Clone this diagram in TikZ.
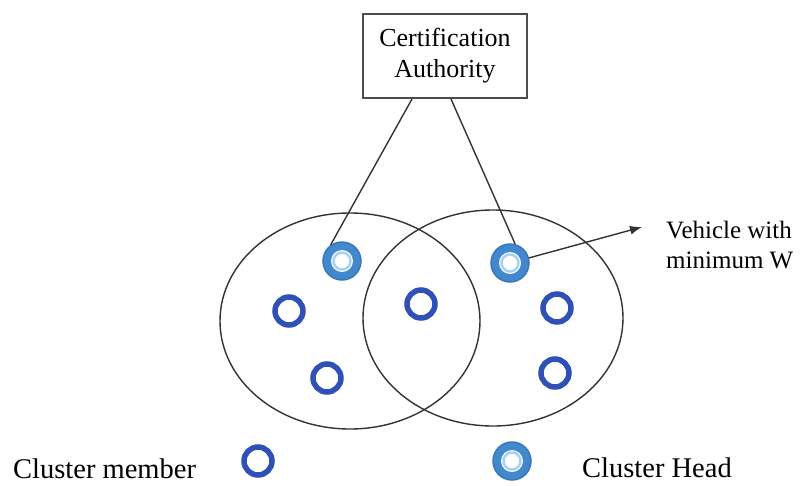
\documentclass[tikz,border=0pt]{standalone}
\usepackage{fontspec}
\setmainfont{Liberation Serif}
\usetikzlibrary{arrows.meta}
\definecolor{headblue}{HTML}{4189CC}
\definecolor{headdark}{HTML}{3A78BC}
\definecolor{headlight}{HTML}{A6D3F2}
\definecolor{memberblue}{HTML}{2F50B6}
\definecolor{edgegray}{HTML}{333333}
\tikzset{
  headnode/.style={circle, inner sep=0pt, minimum size=38pt, fill=headblue, draw=headdark, line width=1.5pt,
    path picture={
      \fill[white] (path picture bounding box.center) circle (11pt);
      \draw[headlight, line width=2.5pt] (path picture bounding box.center) circle (8.5pt);
    }},
  membernode/.style={circle, inner sep=0pt, minimum size=28pt, draw=memberblue, line width=5.5pt},
  cluster/.style={draw=edgegray, line width=1.4pt},
  link/.style={draw=edgegray, line width=1.4pt},
  cabox/.style={draw=gray!60!black, line width=2pt, fill=white, minimum width=164pt, minimum height=84pt,
    align=center, font=\fontsize{26}{31}\selectfont, inner sep=0pt},
  lbl/.style={font=\fontsize{25}{30}\selectfont, inner sep=0pt, anchor=base west},
  legend/.style={font=\fontsize{28.5}{32}\selectfont, inner sep=0pt, anchor=base west}
}
\begin{document}
\begin{tikzpicture}[x=1pt, y=-1pt]
\useasboundingbox (0,0) rectangle (801,485);
% clusters
\draw[cluster] (350,321) ellipse [x radius=130, y radius=108];
\draw[cluster] (493,318) ellipse [x radius=130, y radius=108];
% certification authority
\node[cabox] (ca) at (445,56) {Certification\\Authority};
% heads and members
\node[headnode] (h1) at (342,261) {};
\node[headnode] (h2) at (510,263) {};
\node[membernode] (m1) at (289,311) {};
\node[membernode] (m2) at (421,304) {};
\node[membernode] (m3) at (557,308) {};
\node[membernode] (m4) at (327,378) {};
\node[membernode] (m5) at (555,373) {};
% links
\draw[link] (ca.south west) ++(50,0) -- (h1.125);
\draw[link] (ca.south west) ++(89,0) -- (h2.75);
\coordinate (tip) at (642,227);
\draw[link, -{Latex[length=12pt, width=9pt]}] (h2.15) -- (tip);
\node[lbl] (v1) at (666,238) {Vehicle with};
\node[lbl] (v2) at (666,268) {minimum W};
% legend
\node[legend] (lm) at (13,478) {Cluster member};
\node[membernode] (lmc) at (258,461) {};
\node[headnode] (lhc) at (512,461) {};
\node[legend] (lh) at (582,477) {Cluster Head};
\end{tikzpicture}
\end{document}
